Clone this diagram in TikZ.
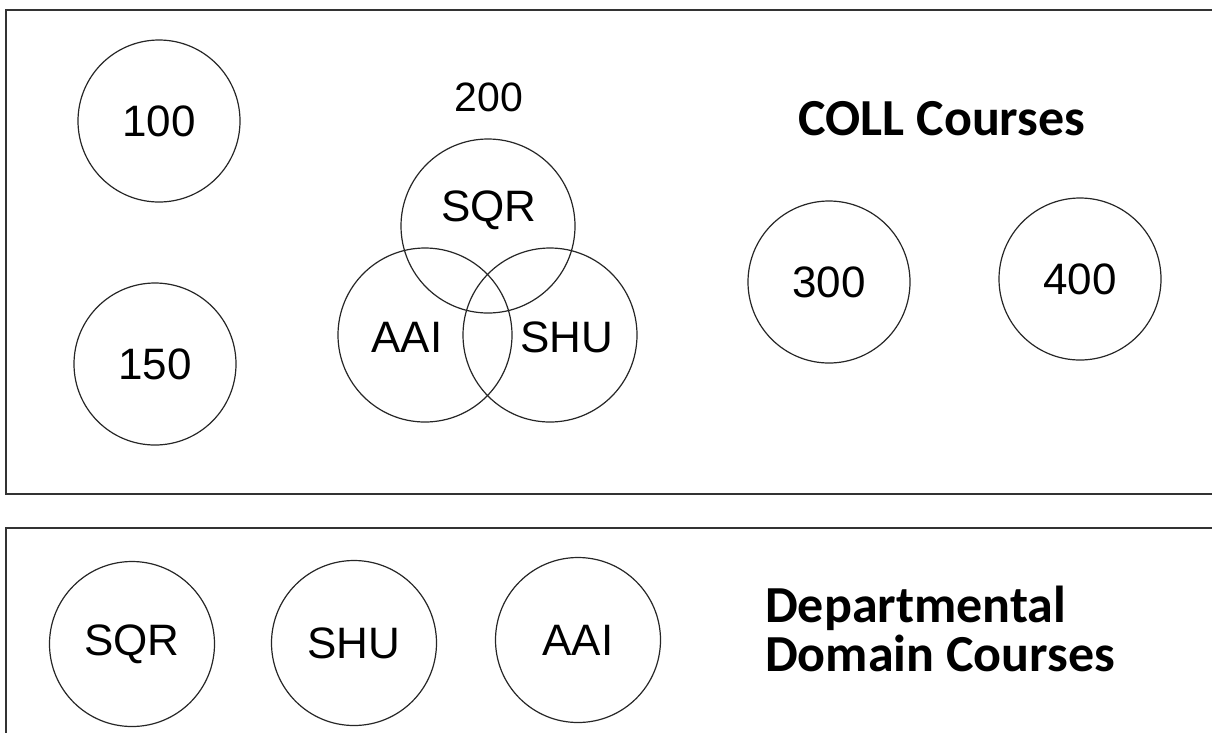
\documentclass[tikz,border=0pt]{standalone}
\usepackage{fontspec}
\setmainfont{Liberation Sans}
\newfontfamily\titlefont{Carlito}
\begin{document}
\begin{tikzpicture}[x=1pt,y=-1pt,
  panel/.style={draw=black!80,line width=1.6pt},
  ring/.style={circle,draw=black!85,line width=1.2pt,inner sep=0pt,minimum size=#1,font=\fontsize{44}{44}\selectfont},
  ring/.default=162pt,
  lbl/.style={inner sep=0pt,font=\fontsize{44}{44}\selectfont},
  title/.style={inner sep=0pt,anchor=base west,font=\titlefont\bfseries\fontsize{52}{52}\selectfont}]
\useasboundingbox (0,0) rectangle (1212,732);
% panels
\draw[panel] (6,10) rectangle (1240,494);
\draw[panel] (6,528) rectangle (1240,760);
% top panel singles
\node[ring] (c100) at (159,121) {100};
\node[ring] (c150) at (155,364) {150};
\node[ring] (c300) at (829,282) {300};
\node[ring] (c400) at (1080,279) {400};
% Venn 200
\node[inner sep=0pt,font=\fontsize{41}{41}\selectfont] (l200) at (489,97) {200};
\node[ring=174pt] (vsqr) at (488,226) {};
\node[ring=174pt] (vaai) at (425,335) {};
\node[ring=174pt] (vshu) at (550,335) {};
\node[lbl] (tsqr) at (489,210) {SQR};
\node[lbl] (taai) at (407,337) {AAI};
\node[lbl] (tshu) at (567,337) {SHU};
\node[title,anchor=base] (coll) at (942,135) {COLL Courses};
% bottom panel
\node[ring=165pt] (bsqr) at (132,644) {SQR};
\node[ring=165pt] (bshu) at (354,643) {SHU};
\node[ring=165pt] (baai) at (578,640) {AAI};
\node[title] (dep1) at (765,622) {Departmental};
\node[title] (dep2) at (765,671) {Domain Courses};
\end{tikzpicture}
\end{document}
